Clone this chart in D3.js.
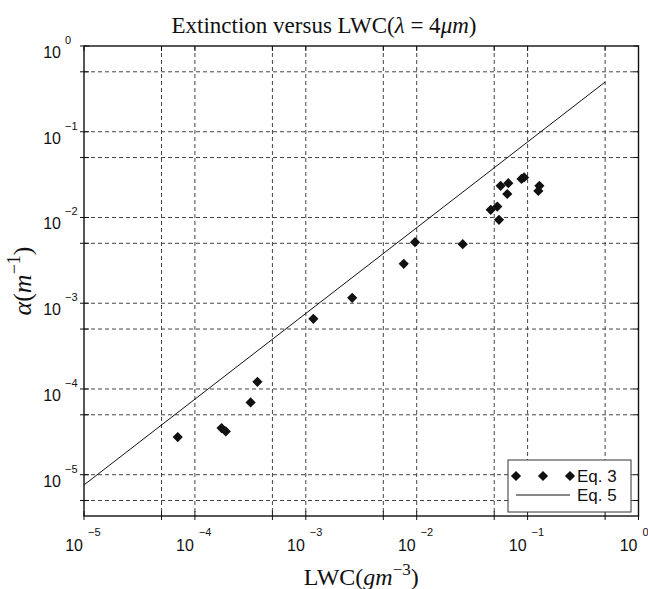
<!DOCTYPE html>
<html>
<head>
<meta charset="utf-8">
<script src="https://cdn.jsdelivr.net/npm/d3@7"></script>
<style>
  html, body { margin: 0; padding: 0; background: #fff; }
  svg { display: block; }
  .tick-text { font-family: "Liberation Sans", Arial, sans-serif; font-size: 16px; fill: #111; }
  .tick-exp { font-family: "Liberation Sans", Arial, sans-serif; font-size: 11px; fill: #111; }
  .math { font-family: "Liberation Serif", "Times New Roman", serif; fill: #111; }
  .legend-text { font-family: "Liberation Sans", Arial, sans-serif; font-size: 17px; fill: #111; }
</style>
</head>
<body>
<script>
// Measured liquid water content (g m^-3) and extinction coefficient (m^-1), Eq. 3
const lwc = [7.0e-5, 1.74e-4, 1.9e-4, 3.18e-4, 3.66e-4, 1.17e-3, 2.62e-3, 7.64e-3, 9.66e-3, 2.6e-2,
             0.0465, 0.0533, 0.0552, 0.0571, 0.067, 0.0656, 0.0881, 0.0929, 0.1277, 0.125];
const extinction = [2.75e-5, 3.5e-5, 3.2e-5, 6.96e-5, 1.21e-4, 6.58e-4, 1.156e-3, 2.88e-3, 5.15e-3, 4.89e-3,
                    0.01227, 0.0134, 0.00938, 0.0234, 0.0251, 0.0188, 0.0282, 0.0293, 0.0234, 0.0204];

// Eq. 5 model line end points
const eq5Lwc = [1e-5, 0.5];
const eq5Alpha = [7.6e-6, 0.38];

// Axis decades and labels
const xDecades = [-5, -4, -3, -2, -1, 0];
const yDecades = [0, -1, -2, -3, -4, -5];
const expLabel = k => (k < 0 ? "\u2212" + (-k) : String(k));

const W = 648, H = 589;
const svg = d3.select("body").append("svg").attr("width", W).attr("height", H);

const x = d3.scaleLog().domain([1e-5, 1]).range([84, 638.5]);
const y = d3.scaleLog().domain([3.3e-6, 1]).range([516, 46]);
const [x0, x1] = x.range();
const [y0, y1] = y.range();

// Grid lines at 10^k and 5*10^k
const xGrid = [];
xDecades.forEach(k => { xGrid.push(Math.pow(10, k)); xGrid.push(5 * Math.pow(10, k)); });
const xGridIn = xGrid.filter(v => x(v) > x0 + 1 && x(v) < x1 - 1);
const yGrid = [];
[0, -1, -2, -3, -4, -5, -6].forEach(k => { yGrid.push(Math.pow(10, k)); yGrid.push(5 * Math.pow(10, k)); });
const yGridIn = yGrid.filter(v => y(v) < y0 - 1 && y(v) > y1 + 1);

const grid = svg.append("g").attr("stroke", "#444").attr("stroke-width", 1).attr("stroke-dasharray", "4,3");
grid.selectAll("line.gx").data(xGridIn).join("line")
  .attr("x1", d => x(d)).attr("x2", d => x(d)).attr("y1", y1).attr("y2", y0);
grid.selectAll("line.gy").data(yGridIn).join("line")
  .attr("y1", d => y(d)).attr("y2", d => y(d)).attr("x1", x0).attr("x2", x1);

// Eq. 5 line
svg.append("path")
  .datum(eq5Lwc.map((v, i) => [v, eq5Alpha[i]]))
  .attr("fill", "none").attr("stroke", "#111").attr("stroke-width", 1)
  .attr("d", d3.line().x(d => x(d[0])).y(d => y(d[1])));

// Diamond markers for Eq. 3
const diamond = d3.symbol().type(d3.symbolSquare).size(52);
svg.append("g").selectAll("path").data(lwc.map((v, i) => [v, extinction[i]])).join("path")
  .attr("d", diamond)
  .attr("transform", d => `translate(${x(d[0])},${y(d[1])}) rotate(45)`)
  .attr("fill", "#111");

// Axes box
svg.append("rect").attr("x", x0).attr("y", y1).attr("width", x1 - x0).attr("height", y0 - y1)
  .attr("fill", "none").attr("stroke", "#111").attr("stroke-width", 1.4);

// Tick marks
const tk = svg.append("g").attr("stroke", "#111").attr("stroke-width", 1);
const xTicks = xGrid.filter(v => x(v) >= x0 - 0.5 && x(v) <= x1 + 0.5);
const yTicks = yGrid.filter(v => y(v) <= y0 + 0.5 && y(v) >= y1 - 0.5);
xTicks.forEach(v => {
  tk.append("line").attr("x1", x(v)).attr("x2", x(v)).attr("y1", y0 - 5).attr("y2", y0 + 4);
  tk.append("line").attr("x1", x(v)).attr("x2", x(v)).attr("y1", y1).attr("y2", y1 + 5);
});
yTicks.forEach(v => {
  tk.append("line").attr("y1", y(v)).attr("y2", y(v)).attr("x1", x0 - 4).attr("x2", x0 + 5);
  tk.append("line").attr("y1", y(v)).attr("y2", y(v)).attr("x1", x1 - 5).attr("x2", x1);
});

// X tick labels
const xl = svg.append("g");
xDecades.forEach(k => {
  const px = x(Math.pow(10, k));
  xl.append("text").attr("class", "tick-text").attr("x", px - 1).attr("y", 551)
    .attr("text-anchor", "end").text("10");
  xl.append("text").attr("class", "tick-exp").attr("x", px + 4).attr("y", 536).text(expLabel(k));
});

// Y tick labels
const yl = svg.append("g");
yDecades.forEach(k => {
  const py = y(Math.pow(10, k));
  yl.append("text").attr("class", "tick-text").attr("x", 61).attr("y", py + 12)
    .attr("text-anchor", "end").text("10");
  yl.append("text").attr("class", "tick-exp").attr("x", 65).attr("y", py - 2).text(expLabel(k));
});

// Title
const title = svg.append("text").attr("class", "math").attr("x", W / 2).attr("y", 33)
  .attr("text-anchor", "middle").attr("font-size", 23);
title.append("tspan").text("Extinction versus LWC(");
title.append("tspan").attr("font-style", "italic").text("\u03bb");
title.append("tspan").text(" = 4");
title.append("tspan").attr("font-style", "italic").text("\u03bcm");
title.append("tspan").text(")");

// X label
const xlab = svg.append("text").attr("class", "math").attr("x", (x0 + x1) / 2).attr("y", 585)
  .attr("text-anchor", "middle").attr("font-size", 24);
xlab.append("tspan").text("LWC(");
xlab.append("tspan").attr("font-style", "italic").text("gm");
xlab.append("tspan").attr("dy", -10).attr("font-size", 17).text("\u22123");
xlab.append("tspan").attr("dy", 10).text(")");

// Y label
const ylab = svg.append("text").attr("class", "math")
  .attr("transform", `translate(31,${(y0 + y1) / 2}) rotate(-90)`)
  .attr("text-anchor", "middle").attr("font-size", 26);
ylab.append("tspan").attr("font-style", "italic").text("\u03b1");
ylab.append("tspan").text("(");
ylab.append("tspan").attr("font-style", "italic").text("m");
ylab.append("tspan").attr("dy", -11).attr("font-size", 18).text("\u22121");
ylab.append("tspan").attr("dy", 11).text(")");

// Legend
const lg = svg.append("g").attr("transform", "translate(508,460)");
lg.append("rect").attr("width", 123).attr("height", 52)
  .attr("fill", "#fff").attr("stroke", "#333").attr("stroke-width", 1);
[8, 35, 62].forEach(dx => {
  lg.append("path").attr("d", diamond).attr("transform", `translate(${dx},16) rotate(45)`).attr("fill", "#111");
});
lg.append("text").attr("class", "legend-text").attr("x", 69).attr("y", 22).text("Eq. 3");
lg.append("line").attr("x1", 8).attr("x2", 62).attr("y1", 35).attr("y2", 35)
  .attr("stroke", "#111").attr("stroke-width", 1);
lg.append("text").attr("class", "legend-text").attr("x", 69).attr("y", 41).text("Eq. 5");
</script>
</body>
</html>
